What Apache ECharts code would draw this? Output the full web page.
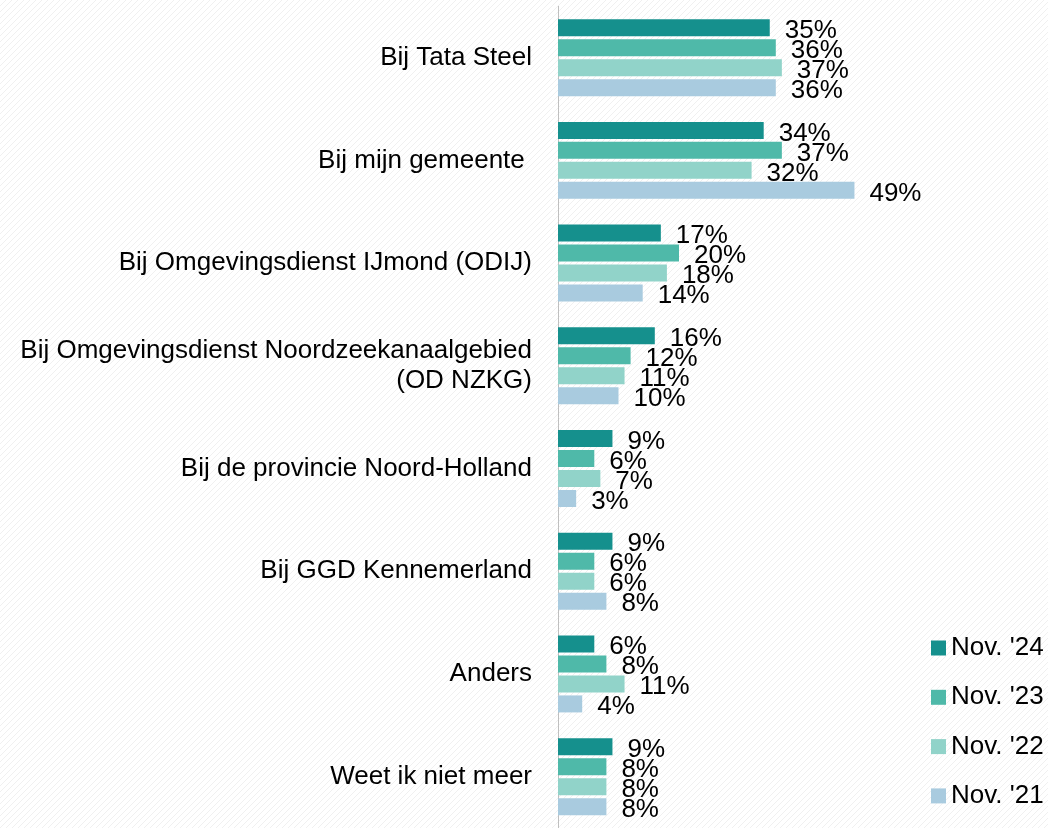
<!DOCTYPE html>
<html>
<head>
<meta charset="utf-8">
<script src="https://cdn.jsdelivr.net/npm/echarts@6/dist/echarts.min.js"></script>
<style>
  html, body { margin: 0; padding: 0; background: #fff; }
  #grafica { width: 1048px; height: 828px; }
</style>
</head>
<body>
<div id="grafica"></div>
<script>
// categorieen en percentages per meting
var categorieen = [
    'Bij Tata Steel',
    'Bij mijn gemeente ',
    'Bij Omgevingsdienst IJmond (ODIJ)',
    'Bij Omgevingsdienst Noordzeekanaalgebied\n(OD NZKG)',
    'Bij de provincie Noord-Holland',
    'Bij GGD Kennemerland',
    'Anders',
    'Weet ik niet meer'
];
var metingen = ["Nov. '24", "Nov. '23", "Nov. '22", "Nov. '21"];
var nov24 = [35, 34, 17, 16, 9, 9, 6, 9];
var nov23 = [36, 37, 20, 12, 6, 6, 8, 8];
var nov22 = [37, 32, 18, 11, 7, 6, 11, 8];
var nov21 = [36, 49, 14, 10, 3, 8, 4, 8];
var kleuren = ['#15908D', '#4FB9A9', '#91D3C9', '#A9CBDF'];

// lichte diagonale arcering als achtergrond
function arcering() {
    var c = document.createElement('canvas');
    c.width = 6; c.height = 6;
    var ctx = c.getContext('2d');
    ctx.fillStyle = '#ffffff';
    ctx.fillRect(0, 0, 6, 6);
    ctx.strokeStyle = '#f0f0f0';
    ctx.lineWidth = 1;
    ctx.beginPath();
    ctx.moveTo(0, 6); ctx.lineTo(6, 0);
    ctx.stroke();
    return c;
}

var lettertype = '"Liberation Sans", Arial, sans-serif';

function maakSerie(naam, data, kleur) {
    return {
        name: naam,
        type: 'bar',
        data: data,
        barWidth: 17,
        barGap: '17.6%',
        itemStyle: { color: kleur },
        label: {
            show: true,
            position: 'right',
            distance: 15,
            offset: [0, 3],
            formatter: '{c}%',
            color: '#000',
            fontSize: 26,
            fontFamily: lettertype
        }
    };
}

var grafiek = echarts.init(document.getElementById('grafica'));
var option = {
    animation: false,
    backgroundColor: { image: arcering(), repeat: 'repeat' },
    grid: { left: 558, top: 6.3, width: 302.5, height: 826.4 },
    legend: {
        orient: 'vertical',
        left: 926,
        top: 630,
        icon: 'rect',
        itemWidth: 15,
        itemHeight: 15,
        itemGap: 23.3,
        data: metingen,
        textStyle: { color: '#000', fontSize: 26, lineHeight: 25, fontFamily: lettertype }
    },
    xAxis: {
        type: 'value',
        min: 0,
        max: 50,
        show: false
    },
    yAxis: {
        type: 'category',
        inverse: true,
        data: categorieen,
        axisLine: { show: true, lineStyle: { color: '#BFBFBF', width: 1 } },
        axisTick: { show: false },
        axisLabel: {
            margin: 26,
            color: '#000',
            fontSize: 26,
            lineHeight: 30,
            align: 'right',
            fontFamily: lettertype
        }
    },
    series: [
        maakSerie(metingen[0], nov24, kleuren[0]),
        maakSerie(metingen[1], nov23, kleuren[1]),
        maakSerie(metingen[2], nov22, kleuren[2]),
        maakSerie(metingen[3], nov21, kleuren[3])
    ]
};
grafiek.setOption(option);
</script>
</body>
</html>
